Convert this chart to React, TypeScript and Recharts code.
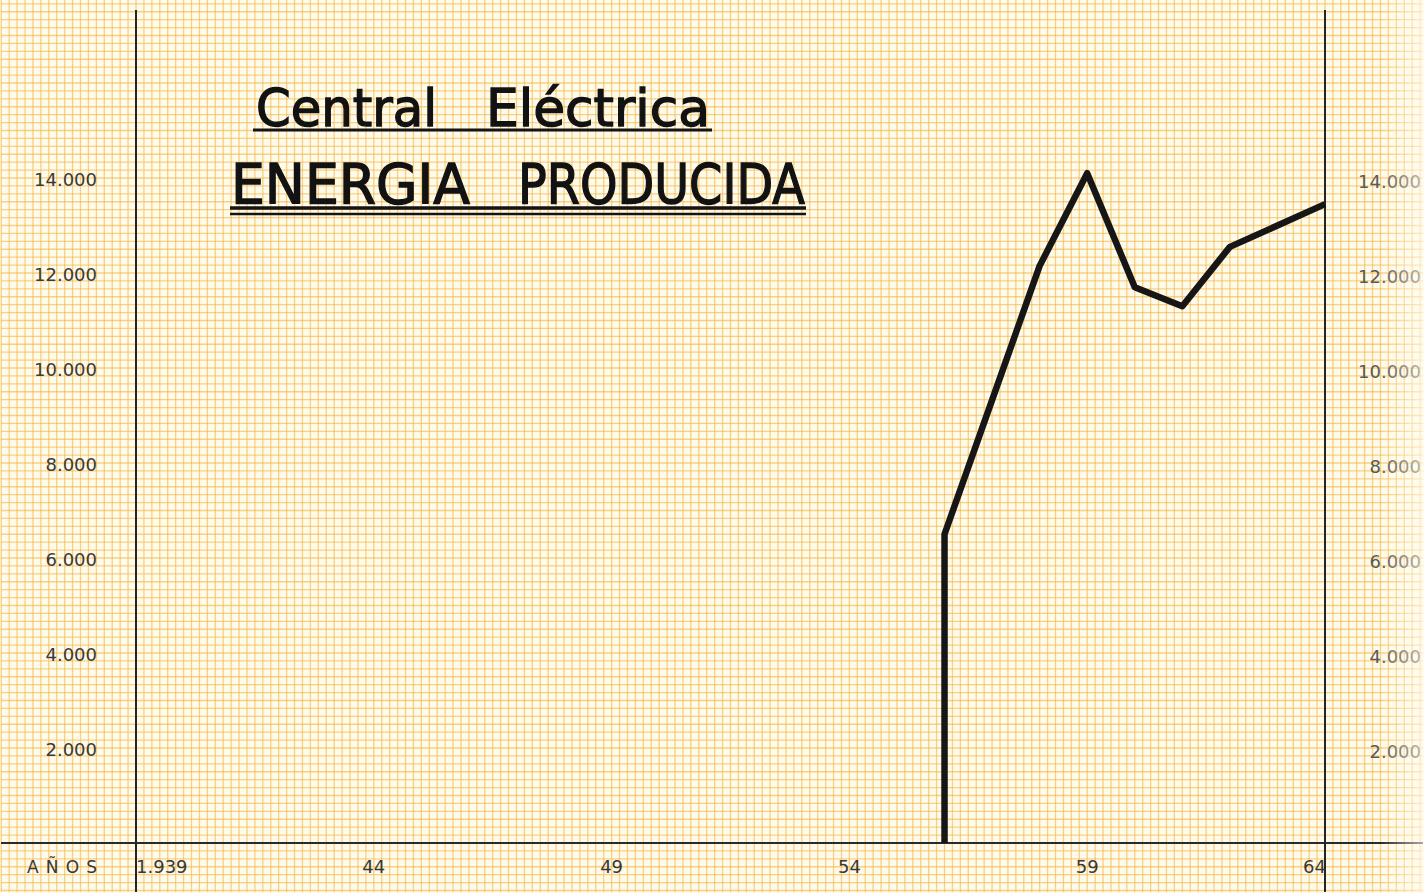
import React from 'react';
import { LineChart, Line, XAxis, YAxis, CartesianGrid, ReferenceLine } from 'recharts';

// energy produced per year
const years = [1956, 1956, 1958, 1959, 1960, 1961, 1962, 1964];
const energy = [0, 6500, 12150, 14100, 11700, 11300, 12550, 13450];

const yearTicks = [1939, 1944, 1949, 1954, 1959, 1964];
const yearLabels = ['1.939', '44', '49', '54', '59', '64'];

const energyTicks = [2000, 4000, 6000, 8000, 10000, 12000, 14000];
const energyLabels = ['2.000', '4.000', '6.000', '8.000', '10.000', '12.000', '14.000'];

const W = 1424;
const H = 893;
const X0 = 136;
const X1 = 1325;
const BASE = 843;
// axes are 1px wide/high so the plot runs from x=1..1423, y=0..892
const pxPerYear = (X1 - X0) / (1964 - 1939);
const unitsPerPx = 2000 / 95;
const xDomain: [number, number] = [1939 - (X0 - 1) / pxPerYear, 1939 + (W - 1 - X0) / pxPerYear];
const yDomain: [number, number] = [-(H - 1 - BASE) * unitsPerPx, BASE * unitsPerPx];
const axisTop = (BASE - 10) * unitsPerPx;

// graph paper lines
const gridX: number[] = [];
for (let k = -17; k <= 162; k++) gridX.push(1939 + k / 6);
const gridY: number[] = [];
for (let k = -6; k <= 106; k++) gridY.push((k * 2000) / 12);

const data = years.map((year, i) => ({ year, energy: energy[i] }));

const FONT = '"DejaVu Sans", sans-serif';
const PAPER = '#fffbea';

const YearTick = (props: any) => {
  const { x, payload } = props;
  const i = yearTicks.indexOf(payload.value);
  const anchor = i === 0 ? 'start' : i === yearTicks.length - 1 ? 'end' : 'middle';
  return (
    <text x={x + (i === yearTicks.length - 1 ? 1 : 0)} y={873} textAnchor={anchor}
      fontFamily={FONT} fontSize={18} fill="#383838">
      {yearLabels[i]}
    </text>
  );
};

const LeftTick = (props: any) => {
  const { y, payload } = props;
  const i = energyTicks.indexOf(payload.value);
  return (
    <text x={97} y={y + 8} textAnchor="end" fontFamily={FONT} fontSize={18} fill="#3a3a3a">
      {energyLabels[i]}
    </text>
  );
};

const RightTick = (props: any) => {
  const { y, payload } = props;
  const i = energyTicks.indexOf(payload.value);
  return (
    <text x={1421} y={y + 10} textAnchor="end" fontFamily={FONT} fontSize={18} fill="#5a5a5a">
      {energyLabels[i]}
    </text>
  );
};

const Word = ({ x, y, w, size, children }: any) => (
  <text x={x} y={y} fontFamily={FONT} fontSize={size} fill="#121212" stroke="#121212" strokeWidth={1.4}
    textLength={w} lengthAdjust="spacingAndGlyphs">
    {children}
  </text>
);

export default function App() {
  return (
    <div style={{ position: 'absolute', left: 0, top: 0, width: W, height: H, overflow: 'hidden', background: PAPER }}>
      <LineChart width={W} height={H} data={data} margin={{ top: 0, right: 0, bottom: 0, left: 0 }}>
        <CartesianGrid
          yAxisId="left"
          fill={PAPER}
          stroke="#f3b54a"
          strokeOpacity={0.62}
          strokeWidth={1.3}
          verticalValues={gridX}
          horizontalValues={gridY}
        />
        <XAxis
          dataKey="year"
          type="number"
          domain={xDomain}
          allowDataOverflow
          ticks={yearTicks}
          interval={0}
          height={1}
          axisLine={false}
          tickLine={false}
          tick={YearTick}
        />
        <YAxis
          yAxisId="left"
          type="number"
          domain={yDomain}
          allowDataOverflow
          ticks={energyTicks}
          interval={0}
          width={1}
          axisLine={false}
          tickLine={false}
          tick={LeftTick}
        />
        <YAxis
          yAxisId="right"
          orientation="right"
          type="number"
          domain={yDomain}
          allowDataOverflow
          ticks={energyTicks}
          interval={0}
          width={1}
          axisLine={false}
          tickLine={false}
          tick={RightTick}
        />
        <ReferenceLine yAxisId="left" y={0} stroke="#2a2a2a" strokeWidth={2} />
        <ReferenceLine
          yAxisId="left"
          segment={[{ x: 1939, y: axisTop }, { x: 1939, y: yDomain[0] }]}
          stroke="#252525"
          strokeWidth={2}
        />
        <ReferenceLine
          yAxisId="left"
          segment={[{ x: 1964, y: axisTop }, { x: 1964, y: yDomain[0] }]}
          stroke="#252525"
          strokeWidth={2}
        />
        <Line
          yAxisId="left"
          type="linear"
          dataKey="energy"
          stroke="#161616"
          strokeWidth={6.5}
          strokeLinejoin="round"
          dot={false}
          activeDot={false}
          isAnimationActive={false}
        />
      </LineChart>
      <svg width={W} height={H} style={{ position: 'absolute', left: 0, top: 0, pointerEvents: 'none' }}>
        <defs>
          <linearGradient id="fade" x1="0" x2="1" y1="0" y2="0">
            <stop offset="0" stopColor="#fffdf2" stopOpacity={0} />
            <stop offset="1" stopColor="#fffdf2" stopOpacity={0.6} />
          </linearGradient>
        </defs>
        <rect x={1380} y={0} width={44} height={H} fill="url(#fade)" />
        <Word x={256} y={126} w={181} size={52}>Central</Word>
        <Word x={486} y={126} w={224} size={52}>Eléctrica</Word>
        <line x1={253} x2={712} y1={130} y2={130} stroke="#141414" strokeWidth={3} />
        <Word x={231} y={203} w={239} size={55}>ENERGIA</Word>
        <Word x={518} y={203} w={287} size={55}>PRODUCIDA</Word>
        <line x1={230} x2={806} y1={208} y2={208} stroke="#141414" strokeWidth={3.5} />
        <line x1={230} x2={806} y1={214} y2={214} stroke="#141414" strokeWidth={2.5} />
        <text x={27} y={873} fontFamily={FONT} fontSize={17} fill="#383838" textLength={70} lengthAdjust="spacing">
          AÑOS
        </text>
      </svg>
    </div>
  );
}
